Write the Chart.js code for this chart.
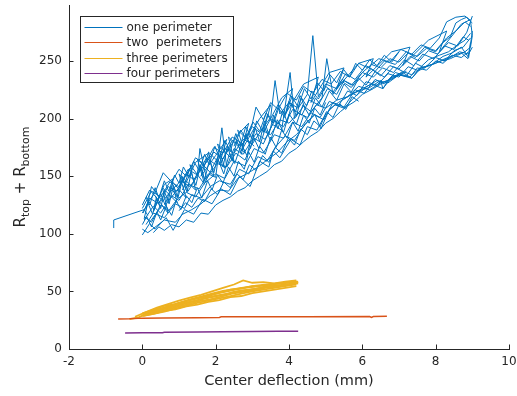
<!DOCTYPE html>
<html><head><meta charset="utf-8">
<script src="https://cdn.jsdelivr.net/npm/chart.js@4"></script>
<style>html,body{margin:0;padding:0;background:#fff;overflow:hidden}canvas{display:block}</style>
</head><body>
<canvas id="c" width="517" height="396" style="width:517px;height:396px"></canvas>
<script>
// ---- labels & ticks ----
const seriesNames = ['one perimeter', 'two  perimeters', 'three perimeters', 'four perimeters'];
const seriesColors = ['#0072BD', '#D95319', '#EDB120', '#7E2F8E'];
const xTickValues = [-2, 0, 2, 4, 6, 8, 10];
const yTickValues = [0, 50, 100, 150, 200, 250];
const xTitle = 'Center deflection (mm)';

// ---- one perimeter (many loading passes) ----
const one0X = [-0.78, -0.78, 0.05, 0.15];
const one0Y = [105, 112, 121, 116];
const one1X = [0.02,0.2,0.45,0.7,0.95,1.2,1.4,1.7,1.95,2.2,2.45,2.7,3.0,3.2,3.5,3.62,3.75,4.0,4.25,4.5,4.65,4.8,5.0,5.3,5.55,5.8,6.1,6.35,6.6,6.9,7.2,7.45,7.7,8.0,8.3,8.55,8.8,8.95];
const one1Y = [118,131,126,141,137,152,147,160,171,165,181,176,193,188,201,233,204,214,209,221,272,219,230,226,239,234,246,241,250,247,258,253,262,259,270,276,284,280];
const one2X = [0.0,0.15,0.4,0.6,0.9,1.1,1.35,1.6,1.85,2.1,2.35,2.6,2.9,3.15,3.4,3.7,3.95,4.2,4.45,4.7,4.87,5.1,5.35,5.6,5.9,6.2,6.5,6.56,6.8,7.1,7.35,7.6,7.9,8.15,8.4,8.65,8.9,9.0];
const one2Y = [104,101,107,112,110,117,121,126,133,138,137,148,153,158,164,171,180,186,195,204,191,208,214,219,224,227,233,226,236,240,235,244,247,250,253,258,256,262];
const one3X = [0.05,0.3,0.5,0.8,1.0,1.25,1.55,1.8,2.0,2.17,2.3,2.55,2.8,3.05,3.3,3.55,3.8,4.03,4.15,4.4,4.6,4.9,5.03,5.2,5.45,5.7,6.0,6.3,6.55,6.85,7.15,7.4,7.65,7.95,8.25,8.5,8.75,8.9];
const one3Y = [112,124,118,133,129,143,139,152,149,192,158,170,164,183,178,195,190,240,200,211,206,218,252,221,232,227,240,236,244,240,251,246,256,252,263,260,271,268];
const one4X = [0.1,0.25,0.55,0.75,1.05,1.3,1.5,1.57,1.75,2.05,2.3,2.5,2.75,3.1,3.35,3.6,3.85,4.1,4.35,4.55,4.8,5.05,5.3,5.5,5.75,6.05,6.25,6.5,6.75,7.0,7.3,7.55,7.8,8.05,8.35,8.6,8.85,9.0];
const one4Y = [121,141,128,136,146,141,150,174,148,161,158,174,169,187,182,198,193,208,203,216,212,226,221,233,229,238,243,237,246,243,254,250,259,256,266,263,275,289];
const one5X = [0.0,0.2,0.35,0.65,0.84,1.15,1.4,1.65,1.9,2.15,2.4,2.65,2.94,3.2,3.45,3.57,3.75,4.05,4.3,4.5,4.76,5.0,5.25,5.5,5.8,6.13,6.4,6.7,7.0,7.3,7.5,7.75,8.0,8.2,8.45,8.7,8.9];
const one5Y = [99,109,104,114,103,121,117,130,126,139,134,150,141,163,158,172,166,182,177,193,190,204,212,209,219,228,233,231,238,236,244,242,250,248,255,253,258];
const one6X = [0.15,0.35,0.57,0.8,1.0,1.2,1.45,1.7,1.95,2.2,2.45,2.75,3.0,3.1,3.3,3.5,3.7,3.95,4.2,4.4,4.65,4.9,5.15,5.4,5.65,5.9,6.15,6.45,6.75,7.05,7.35,7.6,7.85,8.1,8.3,8.55,8.8,9.0];
const one6Y = [127,136,153,145,156,150,166,160,175,170,184,178,196,210,199,214,208,222,216,228,222,234,230,241,236,248,244,252,249,260,256,264,261,270,284,288,289,283];
const one7X = [0.05,0.25,0.5,0.72,0.95,1.2,1.45,1.7,2.0,2.25,2.5,2.8,3.05,3.3,3.6,3.85,4.1,4.35,4.6,4.85,5.1,5.35,5.6,5.85,6.1,6.4,6.7,7.0,7.25,7.5,7.8,8.1,8.35,8.6,8.8,8.95];
const one7Y = [115,110,125,120,130,136,132,144,152,148,163,159,174,170,186,183,197,193,205,201,215,211,224,220,232,229,239,236,245,242,251,255,258,264,268,274];
const one8X = [9.0,8.9,8.7,8.45,8.2,7.9,7.6,7.35,7.1,6.8,6.5,6.2,5.9,5.6,5.3,5.0,4.75,4.5,4.25,4.0,3.75,3.5,3.25,3.0,2.75,2.5,2.25,2.0,1.75,1.5,1.25,1.0,0.75,0.5,0.25,0.0];
const one8Y = [276,253,262,257,254,247,244,238,241,234,231,225,228,219,216,209,212,201,205,196,199,186,190,178,182,170,174,160,166,151,156,141,145,132,137,122];
const one9X = [0.1,0.3,0.6,0.9,1.15,1.35,1.6,1.85,2.1,2.4,2.65,2.9,3.15,3.4,3.65,3.9,4.15,4.45,4.7,4.95,5.2,5.5,5.8,6.05,6.35,6.6,6.9,7.2,7.45,7.7,8.0,8.25,8.5,8.75,8.95];
const one9Y = [108,118,114,126,122,134,131,141,146,143,156,152,167,163,176,185,181,196,203,199,214,210,225,222,234,230,240,237,248,244,253,250,259,262,270];
const one10X = [0.0,0.2,0.4,0.3,0.6,0.85,0.7,1.0,1.3,1.1,1.45,1.8,1.6,2.0,2.3,2.1,2.6,2.9,2.7,3.2,3.5,3.3,3.8,4.1,3.9,4.4,4.8,4.6,5.1,5.5,5.3,5.9,6.3,6.1,6.8,7.3,7.1,7.8,8.3,8.1,8.7,8.95];
const one10Y = [125,138,131,119,143,148,128,140,157,138,162,170,150,168,182,160,186,196,172,200,212,188,218,226,204,230,236,214,240,244,226,248,252,236,258,262,246,268,276,258,282,286];
const one11X = [0.0,0.12,0.25,0.4,0.5,0.65,0.8,0.92,1.05,1.2,1.35,1.5,1.62,1.78,1.9,2.05,2.2,2.35,2.5,2.62,2.78,2.9,3.05,3.2,3.35,3.5,3.65,3.8,3.95,4.1,4.25,4.4,4.55,4.7,4.85,5.0];
const one11Y = [108,115,106,119,112,124,116,129,121,133,127,140,131,146,138,151,144,158,150,163,156,171,162,176,169,184,175,190,183,197,189,203,196,209,203,214];
const one12X = [0.1,0.2,0.35,0.45,0.6,0.72,0.88,1.0,1.12,1.28,1.4,1.55,1.7,1.82,1.98,2.1,2.25,2.4,2.55,2.68,2.82,2.98,3.12,3.28,3.42,3.58,3.72,3.88,4.0,4.18,4.3,4.48,4.62,4.8,5.0,5.2,5.45,5.7,6.0];
const one12Y = [132,125,140,131,146,137,151,144,158,149,163,155,169,160,176,166,181,172,187,177,193,183,198,189,204,196,209,201,215,206,220,211,224,217,228,223,234,229,240];
const one13X = [0.3,0.45,0.6,0.8,1.0,1.2,1.4,1.6,1.8,2.0,2.2,2.4,2.6,2.8,3.0,3.2,3.4,3.6,3.8,4.0,4.2,4.4,4.6,4.8,5.0,5.2,5.4,5.6,5.8,6.0,6.3,6.6,6.9,7.2];
const one13Y = [101,106,103,108,106,112,110,118,117,125,129,132,137,140,146,150,154,160,163,170,174,180,185,189,196,200,206,211,215,221,226,232,236,241];
const one14X = [0.0,0.18,0.32,0.5,0.62,0.78,0.95,1.08,1.25,1.42,1.58,1.72,1.9,2.05,2.22,2.38,2.52,2.7,2.85,3.0,3.18,3.35,3.5,3.68,3.85,4.0,4.2,4.38,4.55,4.72,4.9,5.1,5.3,5.5,5.7,5.9,6.1,6.35,6.6,6.85,7.1];
const one14Y = [118,128,121,135,125,140,132,150,137,146,160,145,157,166,152,170,161,178,168,186,174,191,181,199,188,204,195,212,203,218,210,224,216,230,223,235,229,241,236,245,241];
const one15X = [6.0,6.25,6.5,6.75,7.0,7.25,7.5,7.75,8.0,8.2,8.4,8.55,8.7,8.85,8.95,9.0,8.95,8.8,8.6,8.4,8.2];
const one15Y = [240,247,244,252,249,257,254,261,258,266,271,283,286,288,285,272,262,258,255,252,250];
const one16X = [5.5,5.75,6.0,6.25,6.56,6.75,7.0,7.35,7.5,7.75,8.0,8.25,8.5,8.7,8.88,8.95];
const one16Y = [217,222,226,230,226,235,238,235,241,245,248,252,255,257,252,266];
const one17X = [0.05,0.15,0.28,0.38,0.5,0.6,0.73,0.85,0.97,1.1,1.22,1.33,1.46,1.58,1.7,1.83,1.95,2.08,2.2,2.32,2.45,2.58,2.7,2.83,2.95,3.08,3.2,3.33,3.45,3.58,3.7,3.83,3.95,4.08,4.2,4.33,4.45];
const one17Y = [113,127,117,131,122,137,126,142,131,148,136,153,142,159,147,164,153,170,158,176,163,181,169,187,174,192,180,198,186,203,191,207,197,213,202,218,208];
const one18X = [1.0,1.18,1.35,1.52,1.7,1.88,2.05,2.22,2.4,2.58,2.75,2.92,3.1,3.28,3.45,3.62,3.8,3.98,4.15,4.32,4.5,4.68,4.85,5.02,5.2,5.38,5.55,5.72,5.9];
const one18Y = [120,127,123,131,128,139,134,145,140,152,147,160,155,168,162,175,170,183,177,191,186,198,193,206,201,213,208,219,215];
const one19X = [2.5,2.68,2.85,3.02,3.2,3.38,3.55,3.72,3.9,4.08,4.25,4.42,4.6,4.78,4.95,5.12,5.3,5.48,5.65,5.82,6.0,6.2,6.4,6.6,6.8,7.0];
const one19Y = [176,190,182,197,189,205,196,212,203,219,210,226,217,231,224,238,231,243,236,248,242,251,246,255,249,258];
const one20X = [0.2,0.5,0.35,0.7,0.55,0.95,0.8,1.2,1.0,1.45,1.3,1.7,1.5,1.95,1.8,2.25,2.05,2.5,2.35,2.8,2.6,3.05];
const one20Y = [110,123,133,118,140,127,146,131,152,138,160,143,165,150,171,157,178,163,184,170,190,176];

// ---- two perimeters ----
const twoX = [-0.66,-0.35,0.0,0.55,1.5,2.1,2.15,3.0,4.5,6.2,6.25,6.3,6.67];
const twoY = [26.0,26.2,26.8,27.0,27.2,27.4,27.9,28.0,28.1,28.2,27.5,28.2,28.4];

// ---- three perimeters ----
const three1X = [-0.35,-0.1,0.0,0.3,0.6,0.9,1.2,1.5,1.8,2.1,2.4,2.7,3.0,3.3,3.6,3.9,4.2];
const three1Y = [26,27.5,29,30.5,33,34.5,37,38.5,41,42.5,45,46,48.5,50,51.5,53,54.5];
const three2X = [0.0,0.25,0.55,0.85,1.15,1.45,1.75,2.05,2.35,2.65,2.95,3.25,3.55,3.85,4.15,4.25];
const three2Y = [30,32.5,35,37,40,42,44.5,46.5,48,50.5,51.5,53,54.5,55,56.5,57];
const three3X = [-0.2,0.1,0.4,0.7,1.0,1.3,1.6,1.9,2.2,2.5,2.75,3.0,3.3,3.6,3.9,4.2];
const three3Y = [28,32,36,39,42,44.5,47,50,53,56,59.5,57.5,58,57,58.5,59.5];
const three4X = [0.05,0.35,0.65,0.95,1.25,1.55,1.85,2.15,2.45,2.75,3.05,3.35,3.65,3.95,4.2];
const three4Y = [29,31.5,34,36.5,39,41.5,43,45.5,48,49.5,51,53,54,56,57.5];
const three5X = [0.0,0.3,0.6,0.9,1.2,1.5,1.8,2.1,2.4,2.7,3.0,3.3,3.6,3.9,4.2];
const three5Y = [31,34,37.5,39,41.5,44,46,49,51.5,52.5,54.5,55,56.5,57.5,58.5];
const three6X = [0.1,0.4,0.7,1.0,1.3,1.6,1.9,2.2,2.5,2.8,3.1,3.4,3.7,4.0,4.25];
const three6Y = [29.5,33,35.5,38,40.5,43,45,47,49.5,51,52.5,54.5,55.5,56,58];
const three7X = [0.0,0.3,0.6,0.9,1.2,1.5,1.8,2.1,2.4,2.7,3.0,3.3,3.6,3.9,4.2];
const three7Y = [28.5,30.5,32.5,35,37.5,40,42,44,46,48,50,51.5,53,54.5,56];
const three8X = [0.05,0.35,0.65,0.95,1.25,1.55,1.85,2.15,2.45,2.75,3.05,3.35,3.65,3.95,4.25];
const three8Y = [30.5,33.5,36.5,39.5,42,44.5,47,49,51,53,54,55.5,56.5,57.5,58.5];
const three9X = [0.1,0.4,0.7,1.0,1.3,1.6,1.9,2.2,2.5,2.8,3.1,3.4,3.7,4.0,4.2];
const three9Y = [30,33.5,36.5,40,43,45.5,48,50.5,52,53.5,55,56,57,58,59];

// ---- four perimeters ----
const fourX = [-0.47,0.0,0.55,0.6,1.5,2.2,3.0,3.7,4.25];
const fourY = [13.8,14.0,14.1,14.5,14.8,15.0,15.2,15.4,15.5];

const AX = '#262626';
Chart.defaults.font.family = "'DejaVu Sans', sans-serif";

function pts(xs, ys) {
  const n = Math.min(xs.length, ys.length), out = [];
  for (let i = 0; i < n; i++) out.push({x: xs[i], y: ys[i]});
  return out;
}
function ds(group, xs, ys, w) {
  return {label: seriesNames[group], data: pts(xs, ys), borderColor: seriesColors[group],
    backgroundColor: seriesColors[group], borderWidth: w, showLine: true, pointRadius: 0,
    tension: 0, fill: false};
}
const blueX = [one0X, one1X, one2X, one3X, one4X, one5X, one6X, one7X, one8X, one9X, one10X, one11X, one12X, one13X, one14X, one15X, one16X, one17X, one18X, one19X, one20X];
const blueY = [one0Y, one1Y, one2Y, one3Y, one4Y, one5Y, one6Y, one7Y, one8Y, one9Y, one10Y, one11Y, one12Y, one13Y, one14Y, one15Y, one16Y, one17Y, one18Y, one19Y, one20Y];
const yelX = [three1X, three2X, three3X, three4X, three5X, three6X, three7X, three8X, three9X];
const yelY = [three1Y, three2Y, three3Y, three4Y, three5Y, three6Y, three7Y, three8Y, three9Y];

const datasets = [];
blueX.forEach((xs, i) => datasets.push(ds(0, xs, blueY[i], 1)));
datasets.push(ds(1, twoX, twoY, 1.5));
yelX.forEach((xs, i) => datasets.push(ds(2, xs, yelY[i], 1.8)));
datasets.push(ds(3, fourX, fourY, 1.5));

const matlabPlugin = {
  id: 'matlabDecor',
  afterDraw(chart) {
    const {ctx, chartArea: a, scales: {x, y}} = chart;
    ctx.save();
    // inward tick marks
    ctx.strokeStyle = AX; ctx.lineWidth = 1;
    ctx.beginPath();
    x.ticks.forEach(t => { const px = Math.round(x.getPixelForValue(t.value)) + 0.5; ctx.moveTo(px, a.bottom); ctx.lineTo(px, a.bottom - 4.5); });
    y.ticks.forEach(t => { const py = Math.round(y.getPixelForValue(t.value)) + 0.5; ctx.moveTo(a.left, py); ctx.lineTo(a.left + 4.5, py); });
    ctx.stroke();

    // legend box
    const seen = [];
    chart.data.datasets.forEach(d => { if (!seen.find(s => s.text === d.label)) seen.push({text: d.label, color: d.borderColor}); });
    const bx = Math.round(a.left + 11) + 0.5, by = Math.round(a.top + 11) + 0.5, bw = 153, bh = 66;
    ctx.fillStyle = '#ffffff';
    ctx.fillRect(bx, by, bw, bh);
    ctx.strokeStyle = AX; ctx.lineWidth = 1;
    ctx.strokeRect(bx, by, bw, bh);
    ctx.font = "12px 'DejaVu Sans'";
    ctx.textBaseline = 'middle'; ctx.textAlign = 'left';
    seen.forEach((s, i) => {
      const ry = Math.round(by + 10 + i * 15.5) + 0.5;
      ctx.strokeStyle = s.color; ctx.lineWidth = 1;
      ctx.beginPath(); ctx.moveTo(bx + 4, ry); ctx.lineTo(bx + 42, ry); ctx.stroke();
      ctx.fillStyle = AX;
      ctx.fillText(s.text, bx + 46, ry);
    });

    // y-axis label with subscripts: R_top + R_bottom
    const parts = [
      {t: 'R', f: "15px 'DejaVu Sans'", dy: 0},
      {t: 'top', f: "11px 'DejaVu Sans'", dy: 4},
      {t: ' + R', f: "15px 'DejaVu Sans'", dy: 0},
      {t: 'bottom', f: "11px 'DejaVu Sans'", dy: 4}
    ];
    let total = 0;
    parts.forEach(p => { ctx.font = p.f; p.w = ctx.measureText(p.t).width; total += p.w; });
    const cy = (a.top + a.bottom) / 2;
    ctx.translate(25, cy);
    ctx.rotate(-Math.PI / 2);
    ctx.fillStyle = AX; ctx.textBaseline = 'alphabetic';
    let cx = -total / 2;
    parts.forEach(p => { ctx.font = p.f; ctx.fillText(p.t, cx, p.dy); cx += p.w; });
    ctx.restore();
  }
};

new Chart(document.getElementById('c'), {
  type: 'scatter',
  data: {datasets},
  plugins: [matlabPlugin],
  options: {
    responsive: false,
    animation: false,
    devicePixelRatio: 1,
    layout: {padding: {top: 5, right: 8, left: 0, bottom: 0}},
    plugins: {legend: {display: false}, tooltip: {enabled: false}},
    scales: {
      x: {
        type: 'linear', min: -2, max: 10,
        afterBuildTicks: s => { s.ticks = xTickValues.map(v => ({value: v})); },
        afterFit: s => { s.height = 47; s.paddingLeft = 0; s.paddingRight = 0; },
        ticks: {color: AX, font: {size: 12}, padding: 6, maxRotation: 0, autoSkip: false},
        grid: {display: false, drawTicks: false},
        border: {display: true, color: AX, width: 1},
        title: {display: true, text: xTitle, color: AX, font: {size: 14.5}, padding: {top: 0, bottom: 6}}
      },
      y: {
        type: 'linear', min: 0, max: 298.6,
        afterBuildTicks: s => { s.ticks = yTickValues.map(v => ({value: v})); },
        afterFit: s => { s.width = 69; s.paddingTop = 0; s.paddingBottom = 0; },
        ticks: {color: AX, font: {size: 12}, padding: 7, autoSkip: false},
        grid: {display: false, drawTicks: false},
        border: {display: true, color: AX, width: 1},
        title: {display: false}
      }
    }
  }
});
</script>
</body></html>
